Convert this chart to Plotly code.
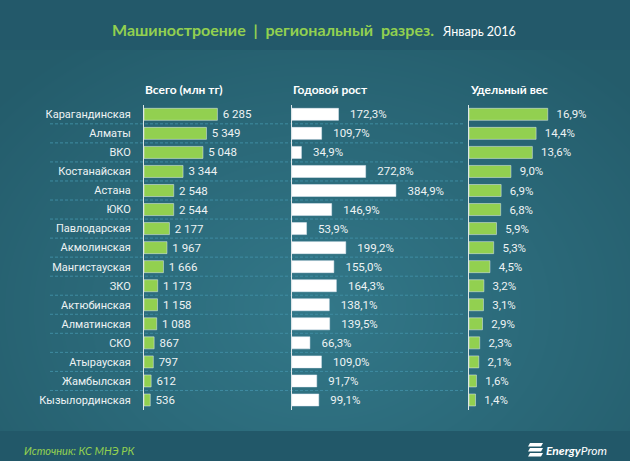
import base64, struct, zlib
import numpy as np
import plotly.graph_objects as go

# ---------------- data ----------------
regions = ["Карагандинская", "Алматы", "ВКО", "Костанайская", "Астана", "ЮКО",
           "Павлодарская", "Акмолинская", "Мангистауская", "ЗКО", "Актюбинская",
           "Алматинская", "СКО", "Атырауская", "Жамбылская", "Кызылординская"]
total_mln = [6285, 5349, 5048, 3344, 2548, 2544, 2177, 1967, 1666, 1173, 1158, 1088, 867, 797, 612, 536]
growth_pct = [172.3, 109.7, 34.9, 272.8, 384.9, 146.9, 53.9, 199.2, 155.0, 164.3, 138.1, 139.5, 66.3, 109.0, 91.7, 99.1]
share_pct = [16.9, 14.4, 13.6, 9.0, 6.9, 6.8, 5.9, 5.3, 4.5, 3.2, 3.1, 2.9, 2.3, 2.1, 1.6, 1.4]
headers = ["Всего (млн тг)", "Годовой рост", "Удельный вес"]
title_main = "Машиностроение\u00a0 |\u00a0 региональный\u00a0 разрез."
title_date = "Январь 2016"
source_text = "Источник: КС МНЭ РК"

W, H = 630, 461
GREEN = "#92d050"
TXT = "#eef3f4"
FONT = "Roboto"


def px(x):
    return x / W


def py(y):
    return 1 - y / H


# ---------------- background image ----------------
yy, xx = np.mgrid[0:H, 0:W].astype(float)
d = np.sqrt(((xx - 320) / 430) ** 2 + ((yy - 310) / 330) ** 2)
t = np.clip(d, 0, 1)[..., None]
center = np.array([0x33, 0x78, 0x89], float)
edge = np.array([0x24, 0x5c, 0x6b], float)
img = center * (1 - t) + edge * t
img[:50] = [0x23, 0x59, 0x6a]
img[431:] = [0x22, 0x58, 0x69]
img = img.astype(np.uint8)


def to_png(arr):
    h, w, _ = arr.shape
    raw = b"".join(b"\x00" + arr[i].tobytes() for i in range(h))

    def chunk(tag, data):
        c = struct.pack(">I", len(data)) + tag + data
        return c + struct.pack(">I", zlib.crc32(tag + data) & 0xFFFFFFFF)

    return (b"\x89PNG\r\n\x1a\n" + chunk(b"IHDR", struct.pack(">IIBBBBB", w, h, 8, 2, 0, 0, 0))
            + chunk(b"IDAT", zlib.compress(raw, 9)) + chunk(b"IEND", b""))


bg_uri = "data:image/png;base64," + base64.b64encode(to_png(img)).decode()

# ---------------- figure ----------------
fig = go.Figure()
n = len(regions)
bw = 0.63
common = dict(orientation="h", y=regions, width=bw, textposition="outside", cliponaxis=False,
              constraintext="none",
              textfont=dict(color=TXT, size=11.5, family=FONT), hoverinfo="skip")

fig.add_trace(go.Bar(x=total_mln, marker_color=GREEN, texttemplate="\u2009%{x:,.0f}",
                     xaxis="x", yaxis="y", **common))
fig.add_trace(go.Bar(x=growth_pct, marker_color="#ffffff", texttemplate="\u00a0\u00a0\u00a0%{x:.1f}%",
                     xaxis="x2", yaxis="y2", **common))
fig.add_trace(go.Bar(x=share_pct, marker_color=GREEN, texttemplate="\u00a0\u00a0%{x:.1f}%",
                     xaxis="x3", yaxis="y3", **common))

ydom = [py(409.5), py(104.8)]
yrange = [n - 0.5, -0.5]
xcommon = dict(showgrid=False, zeroline=False, showticklabels=False, showline=False, fixedrange=True)
ycommon = dict(type="category", categoryorder="array", categoryarray=regions, range=yrange,
               domain=ydom, showgrid=False, zeroline=False, showline=True, linecolor="#dde6e8",
               linewidth=1, fixedrange=True, ticks="")

fig.update_layout(
    width=W, height=H,
    margin=dict(l=0, r=0, t=0, b=0),
    paper_bgcolor="#2b6676", plot_bgcolor="rgba(0,0,0,0)",
    separators=", ",
    showlegend=False,
    bargap=0.37,
    xaxis=dict(domain=[px(144), px(280)], range=[0, 136 / 0.01168], anchor="y", **xcommon),
    xaxis2=dict(domain=[px(292), px(455)], range=[0, 163 / 0.270], anchor="y2", **xcommon),
    xaxis3=dict(domain=[px(469), px(620)], range=[0, 151 / 4.66], anchor="y3", **xcommon),
    yaxis=dict(anchor="x", showticklabels=True, ticklabelstandoff=10,
               tickfont=dict(color=TXT, size=11, family=FONT), **ycommon),
    yaxis2=dict(anchor="x2", showticklabels=False, matches="y", **ycommon),
    yaxis3=dict(anchor="x3", showticklabels=False, matches="y", **ycommon),
    images=[dict(source=bg_uri, xref="paper", yref="paper", x=0, y=1, sizex=1, sizey=1,
                 sizing="stretch", xanchor="left", yanchor="top", layer="below")],
)

# dashed row separators
for i in range(n - 1):
    fig.add_shape(type="line", xref="paper", yref="y", x0=px(50), x1=px(465), y0=i + 0.5, y1=i + 0.5,
                  line=dict(color="#3f8ca2", width=1, dash="3px,2px"), layer="below")

# title
fig.add_annotation(x=px(436), y=py(30), xref="paper", yref="paper", xanchor="right", yanchor="middle",
                   text="<b>" + title_main + "</b>", showarrow=False,
                   font=dict(color=GREEN, size=16, family="Lato"))
fig.add_annotation(x=px(440), y=py(31), xref="paper", yref="paper", xanchor="left", yanchor="middle",
                   text=title_date, showarrow=False, font=dict(color="#ffffff", size=12.5, family="Lato"))

# column headers
for hx, htxt in zip([144, 292, 469], headers):
    fig.add_annotation(x=px(hx - 1), y=py(90), xref="paper", yref="paper", xanchor="left", yanchor="middle",
                       text="<b>" + htxt + "</b>", showarrow=False,
                       font=dict(color="#ffffff", size=12, family="Lato"))

# source
fig.add_annotation(x=px(22), y=py(450), xref="paper", yref="paper", xanchor="left", yanchor="middle",
                   text="<i>" + source_text + "</i>", showarrow=False,
                   font=dict(color=GREEN, size=11, family="Lato"))

# logo
fig.add_annotation(x=px(544), y=py(450), xref="paper", yref="paper", xanchor="left", yanchor="middle",
                   text="<b><i>Energy</i></b><i>Prom</i>", showarrow=False,
                   font=dict(color="#ffffff", size=12, family="Lato"))
for k in range(3):
    y0 = 443 + k * 5
    path = "M {} {} L {} {} L {} {} L {} {} Z".format(
        px(530), py(y0), px(543), py(y0), px(541), py(y0 + 3.5), px(528), py(y0 + 3.5))
    fig.add_shape(type="path", xref="paper", yref="paper", path=path,
                  fillcolor="#ffffff", line=dict(width=0))

fig.write_html("out.html", config={"displayModeBar": False},
               post_script="document.body.style.margin='0';")
